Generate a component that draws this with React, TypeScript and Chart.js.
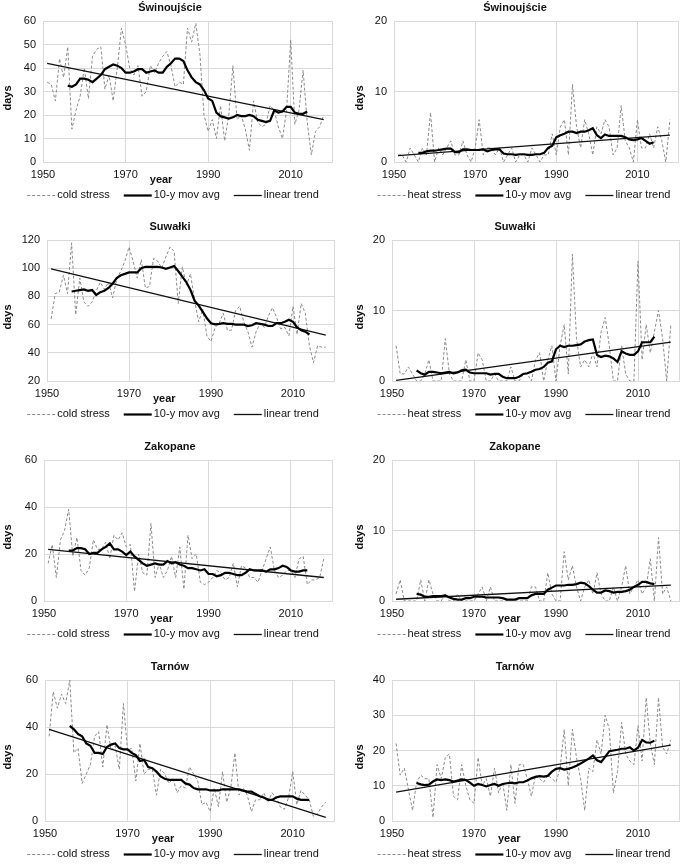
import { useEffect, useRef } from 'react';
import { Chart, registerables } from 'chart.js';

Chart.register(...registerables);

// ---------- categories ----------
const years = [
  1951, 1952, 1953, 1954, 1955, 1956, 1957, 1958, 1959, 1960,
  1961, 1962, 1963, 1964, 1965, 1966, 1967, 1968, 1969, 1970,
  1971, 1972, 1973, 1974, 1975, 1976, 1977, 1978, 1979, 1980,
  1981, 1982, 1983, 1984, 1985, 1986, 1987, 1988, 1989, 1990,
  1991, 1992, 1993, 1994, 1995, 1996, 1997, 1998, 1999, 2000,
  2001, 2002, 2003, 2004, 2005, 2006, 2007, 2008, 2009, 2010,
  2011, 2012, 2013, 2014, 2015, 2016, 2017, 2018,
];
const maYears = years.slice(5, 64); // 1956..2014
const trendYears = [1951, 2018];

// ---------- tick labels ----------
const xTicks = [1950, 1970, 1990, 2010, 2020];
const yTicks0to60by10 = [0, 10, 20, 30, 40, 50, 60];
const yTicks0to20by10 = [0, 10, 20];
const yTicks20to120by20 = [20, 40, 60, 80, 100, 120];
const yTicks0to60by20 = [0, 20, 40, 60];
const yTicks0to40by10 = [0, 10, 20, 30, 40];

// ---------- Świnoujście ----------
const swiCold = [
  34, 33, 26, 44, 36, 49, 14, 22, 28, 40,
  27, 45, 48, 49, 31, 37, 26, 40, 57, 50,
  40, 37, 41, 28, 30, 41, 38, 42, 45, 47,
  41, 32, 34, 33, 57, 51, 59, 46, 20, 13,
  18, 10, 24, 9, 20, 41, 18, 20, 14, 5,
  26, 17, 15, 16, 24, 22, 15, 10, 22, 52,
  16, 22, 39, 17, 3, 13, 15, 20,
];
const swiColdMA = [
  32.5, 32, 33, 35.5, 35.5,
  35, 34, 35.5, 37, 39.5, 40.5, 41.5, 41, 40, 38,
  38, 38.5, 39.5, 39.5, 38, 38.5, 39, 38, 38, 40.5,
  42, 44, 44, 43, 39, 36, 34, 33, 30.5, 27,
  26, 21, 19.5, 19, 18.5, 19, 20, 19.5, 19.5, 20,
  19.5, 18, 17.5, 17, 17.5, 22, 21, 21.5, 23.5, 23.5,
  21, 20.5, 20.5, 21.5,
];
const swiColdTrend = [42, 18];

const swiHeat = [
  1, 1, 0, 2, 1, 0, 2, 1, 7, 0,
  2, 1, 2, 3, 1, 1, 3, 1, 0, 2,
  6, 1, 2, 2, 1, 2, 0, 1, 2, 0,
  1, 1, 0, 2, 1, 0, 1, 1, 4, 1,
  5, 6, 1, 11, 5, 2, 6, 4, 1, 5,
  4, 6, 5, 1, 2, 8, 3, 2, 0, 6,
  2, 2, 4, 2, 5, 3, 0, 6,
];
const swiHeatMA = [
  1.3, 1.3, 1.5, 1.6, 1.6,
  1.7, 1.8, 1.9, 1.9, 1.4, 1.4, 1.8, 1.8, 1.7, 1.7,
  1.7, 1.8, 1.5, 1.7, 1.8, 1.8, 1.2, 1.1, 1.1, 1.0,
  1.1, 1.1, 1.0, 1.0, 1.1, 1.1, 1.3, 2.0, 2.3, 3.5,
  3.8, 4.0, 4.3, 4.3, 4.1, 4.3, 4.3, 4.5, 4.8, 3.8,
  3.4, 3.9, 3.7, 3.7, 3.7, 3.7, 3.5, 3.2, 3.1, 3.2,
  3.4, 3.0, 2.6, 2.8,
];
const swiHeatTrend = [0.9, 3.8];

// ---------- Suwałki ----------
const suwCold = [
  64, 82, 83, 95, 82, 118, 67, 93, 76, 73,
  76, 84, 90, 85, 90, 79, 92, 98, 105, 115,
  105, 93, 106, 86, 87, 107, 105, 100, 108, 115,
  112, 75, 101, 88, 96, 77, 62, 71, 52, 48,
  58, 61, 68, 56, 56, 70, 73, 62, 55, 44,
  55, 61, 58, 66, 72, 65, 57, 58, 52, 73,
  53, 75, 68, 45, 33, 45, 44, 44,
];
const suwColdMA = [
  83.5, 84, 84.5, 85, 84,
  84.5, 81, 83, 84, 86, 89, 93, 95, 96, 97,
  97, 97, 100, 101, 101, 101, 101, 100.5, 99.5, 100.5,
  101.5, 98, 94, 90, 84.5, 77, 73.5, 69, 64.5, 61,
  60.2, 60.5, 61, 60.5, 60.5, 60, 60, 60, 59, 59.5,
  61, 60.5, 60, 59, 59, 61, 61, 62, 63.5, 62,
  58, 56, 55, 53,
];
const suwColdTrend = [99.5, 52.5];

const suwHeat = [
  5, 1, 1, 2, 1, 0, 0, 1, 3, 0,
  0, 0, 6, 1, 0, 0, 0, 3, 0, 0,
  4, 3, 0, 0, 1, 0, 0, 0, 2, 0,
  0, 1, 1, 0, 3, 4, 0, 3, 5, 0,
  5, 8, 1, 18, 6, 2, 3, 2, 4, 2,
  7, 9, 5, 0, 0, 5, 1, 0, 0, 17,
  3, 8, 4, 7, 10, 6, 0, 8,
];
const suwHeatMA = [
  1.5, 1.1, 0.9, 1.3, 1.3,
  1.2, 1.1, 1.2, 1.3, 1.1, 1.2, 1.5, 1.6, 1.2, 1.1,
  1.1, 1.1, 1.1, 0.9, 1.0, 1.0, 0.6, 0.4, 0.4, 0.4,
  0.6, 1.0, 1.1, 1.3, 1.6, 1.7, 2.0, 2.6, 2.8, 4.5,
  5.0, 4.8, 5.0, 5.0, 5.1, 5.2, 5.6, 5.8, 5.9, 3.7,
  3.4, 3.6, 3.5, 3.2, 2.7, 4.2, 3.9, 3.7, 3.7, 4.2,
  5.5, 5.5, 5.5, 6.3,
];
const suwHeatTrend = [0.1, 5.5];

// ---------- Zakopane ----------
const zakCold = [
  16, 24, 10, 26, 30, 39, 19, 27, 13, 11,
  14, 26, 22, 22, 25, 18, 28, 26, 29, 23,
  24, 4, 20, 12, 11, 33, 10, 16, 10, 13,
  19, 10, 23, 5, 28, 18, 20, 8, 7, 8,
  10, 13, 12, 9, 10, 16, 6, 15, 14, 10,
  10, 8, 13, 18, 23, 13, 10, 11, 13, 13,
  10, 18, 19, 7, 9, 9, 10, 18,
];
const zakColdMA = [
  21.5, 21.5, 22.5, 22.5, 22,
  20, 20.5, 20.5, 22, 23, 24.5, 22, 22, 21, 19.5,
  21, 19, 17.5, 16, 15, 15.5, 16, 15.5, 15.5, 17,
  16, 16.5, 15.5, 15, 14, 14, 13.5, 13, 13.5, 11.5,
  11.5, 10.5, 11, 12, 12, 11.5, 11, 11, 12, 13.5,
  13, 13, 13, 12.5, 13.5, 13.5, 14, 15, 14.5, 13,
  12.5, 12.5, 13, 13,
];
const zakColdTrend = [22, 10];

const zakHeat = [
  1, 3, 0, 0, 0, 0, 3, 0, 3, 1,
  0, 0, 1, 0, 0, 1, 0, 0, 0, 0,
  1, 2, 0, 2, 0, 0, 0, 0, 0, 0,
  0, 0, 0, 2, 2, 0, 0, 4, 1, 0,
  0, 7, 3, 5, 2, 0, 2, 3, 1, 4,
  1, 0, 0, 2, 0, 2, 5, 1, 2, 3,
  1, 2, 6, 0, 9, 1, 2, 0,
];
const zakHeatMA = [
  1.0, 0.9, 0.6, 0.6, 0.7,
  0.7, 0.7, 0.8, 0.5, 0.3, 0.2, 0.2, 0.4, 0.4, 0.6,
  0.6, 0.6, 0.5, 0.5, 0.5, 0.5, 0.4, 0.2, 0.2, 0.2,
  0.4, 0.4, 0.4, 0.8, 1.0, 1.0, 1.0, 1.6, 1.9, 2.2,
  2.2, 2.2, 2.3, 2.3, 2.4, 2.6, 2.5, 2.1, 1.6, 1.2,
  1.2, 1.5, 1.4, 1.2, 1.3, 1.3, 1.4, 1.6, 2.0, 2.3,
  2.7, 2.7, 2.5, 2.4,
];
const zakHeatTrend = [0.25, 2.25];

// ---------- Tarnów ----------
const tarCold = [
  36, 55, 48, 54, 50, 60, 29, 31, 16, 20,
  24, 36, 38, 23, 41, 30, 32, 22, 50, 30,
  31, 17, 33, 20, 22, 22, 11, 22, 20, 16,
  18, 12, 15, 14, 23, 20, 17, 7, 8, 4,
  14, 6, 21, 8, 14, 29, 11, 14, 11, 4,
  9, 9, 12, 8, 12, 10, 6, 5, 10, 21,
  7, 13, 11, 9, 2, 3, 6, 8,
];
const tarColdMA = [
  40.5, 39, 37, 36, 33,
  32, 29, 29, 28.5, 31.5, 32.5, 33, 31, 30.5, 30.5,
  29, 28, 25.5, 26, 23, 22.5, 21, 19, 18, 17.5,
  17.5, 17.5, 17.5, 16, 15.5, 14, 13.5, 13.5, 13.5, 13,
  13, 13, 13.5, 13.5, 13.5, 13.5, 13.5, 13, 12.5, 12.5,
  11.5, 10.5, 10, 9, 9, 10, 10.5, 10.5, 10.5, 10.5,
  9.5, 9, 9, 9,
];
const tarColdTrend = [39, 1.5];

const tarHeat = [
  22, 13, 15, 9, 3, 11, 13, 12, 12, 1,
  16, 12, 18, 19, 7, 6, 16, 10, 6, 5,
  18, 10, 12, 7, 15, 8, 11, 3, 16, 5,
  16, 16, 12, 7, 13, 12, 11, 13, 12, 11,
  15, 26, 10, 26, 18, 12, 3, 15, 14, 23,
  19, 30, 26, 8, 14, 28, 19, 17, 16, 27,
  17, 35, 22, 16, 35, 21, 19, 23,
];
const tarHeatMA = [
  10.8, 10.4, 10.2, 10.3, 11.2,
  11.8, 11.6, 11.8, 11.6, 11.2, 11.5, 11.8, 11.6, 10.9, 10,
  10.5, 10.2, 9.8, 10.2, 10.5, 10, 10.5, 10.7, 10.9, 10.7,
  11, 11, 11.5, 12.1, 12.5, 12.7, 12.6, 12.8, 14, 14.8,
  15, 14.6, 14.8, 15.2, 15.7, 16.3, 17, 17.7, 18.6, 17.2,
  16.7, 18.2, 19.8, 20, 20.2, 20.5, 20.5, 20.9, 20, 20.8,
  23, 22.3, 22.2, 22.8,
];
const tarHeatTrend = [8.2, 21.5];

// ---------- styling ----------
const FONT = '"Liberation Sans", Arial, Helvetica, sans-serif';
const FS = 11;
const TEXT = '#111111';
const GRID = '#d9d9d9';
const DASH_COLOR = '#8a8a8a';
const PANEL_H = 204;
const ROW_TOPS = [1, 220, 440, 660];
const PLOT_TOP = 20;
const PLOT_BOTTOM = 161;
const LEGEND_Y = 194;
const TITLE_Y = 7;
const DAYS_Y = 97;
const YEAR_AT = 1978.6;
const LINE_LEN = 28;
const LINE_GAP = 2;
const ITEM_GAP = 14;

type Spec = {
  title: string;
  kind: string;
  raw: number[];
  ma: number[];
  trend: number[];
  yMin: number;
  yMax: number;
  yTicks: number[];
  col: number;
  row: number;
  plotLeft: number;
  plotRight: number;
};

const specs: Spec[] = [
  { title: 'Świnoujście', kind: 'cold stress', raw: swiCold, ma: swiColdMA, trend: swiColdTrend, yMin: 0, yMax: 60, yTicks: yTicks0to60by10, col: 0, row: 0, plotLeft: 43, plotRight: 332 },
  { title: 'Świnoujście', kind: 'heat stress', raw: swiHeat, ma: swiHeatMA, trend: swiHeatTrend, yMin: 0, yMax: 20, yTicks: yTicks0to20by10, col: 1, row: 0, plotLeft: 51, plotRight: 335 },
  { title: 'Suwałki', kind: 'cold stress', raw: suwCold, ma: suwColdMA, trend: suwColdTrend, yMin: 20, yMax: 120, yTicks: yTicks20to120by20, col: 0, row: 1, plotLeft: 47, plotRight: 334 },
  { title: 'Suwałki', kind: 'heat stress', raw: suwHeat, ma: suwHeatMA, trend: suwHeatTrend, yMin: 0, yMax: 20, yTicks: yTicks0to20by10, col: 1, row: 1, plotLeft: 49, plotRight: 336 },
  { title: 'Zakopane', kind: 'cold stress', raw: zakCold, ma: zakColdMA, trend: zakColdTrend, yMin: 0, yMax: 60, yTicks: yTicks0to60by20, col: 0, row: 2, plotLeft: 44, plotRight: 332 },
  { title: 'Zakopane', kind: 'heat stress', raw: zakHeat, ma: zakHeatMA, trend: zakHeatTrend, yMin: 0, yMax: 20, yTicks: yTicks0to20by10, col: 1, row: 2, plotLeft: 49, plotRight: 336 },
  { title: 'Tarnów', kind: 'cold stress', raw: tarCold, ma: tarColdMA, trend: tarColdTrend, yMin: 0, yMax: 60, yTicks: yTicks0to60by20, col: 0, row: 3, plotLeft: 45, plotRight: 334 },
  { title: 'Tarnów', kind: 'heat stress', raw: tarHeat, ma: tarHeatMA, trend: tarHeatTrend, yMin: 0, yMax: 40, yTicks: yTicks0to40by10, col: 1, row: 3, plotLeft: 49, plotRight: 336 },
];

const COL_X = [0, 343];
const COL_W = [343, 342];
const TITLE_X = [170, 172];
const LEGEND_CX = [173, 181];
const DAYS_X = [8, 17];

function makeDecor(spec: Spec) {
  const items = [
    { label: spec.kind, dash: [3, 2], width: 1, color: DASH_COLOR },
    { label: '10-y mov avg', dash: [] as number[], width: 2.2, color: '#000000' },
    { label: 'linear trend', dash: [] as number[], width: 1.3, color: '#111111' },
  ];
  return {
    id: 'decor',
    afterDraw(chart: any) {
      const { ctx, chartArea, scales } = chart;
      ctx.save();
      ctx.fillStyle = TEXT;
      ctx.textBaseline = 'middle';
      ctx.textAlign = 'center';
      ctx.font = `bold ${FS}px ${FONT}`;
      ctx.fillText(spec.title, TITLE_X[spec.col], TITLE_Y);
      ctx.fillText('year', scales.x.getPixelForValue(YEAR_AT), chartArea.bottom + 18);
      ctx.save();
      ctx.translate(DAYS_X[spec.col], DAYS_Y);
      ctx.rotate(-Math.PI / 2);
      ctx.fillText('days', 0, 0);
      ctx.restore();

      ctx.font = `${FS}px ${FONT}`;
      ctx.textAlign = 'left';
      const widths = items.map((it) => ctx.measureText(it.label).width);
      const total =
        items.length * (LINE_LEN + LINE_GAP) +
        widths.reduce((a, b) => a + b, 0) +
        (items.length - 1) * ITEM_GAP;
      let x = LEGEND_CX[spec.col] - total / 2;
      items.forEach((it, i) => {
        ctx.beginPath();
        ctx.setLineDash(it.dash);
        ctx.lineWidth = it.width;
        ctx.strokeStyle = it.color;
        ctx.moveTo(x, LEGEND_Y + 0.5);
        ctx.lineTo(x + LINE_LEN, LEGEND_Y + 0.5);
        ctx.stroke();
        ctx.setLineDash([]);
        x += LINE_LEN + LINE_GAP;
        ctx.fillText(it.label, x, LEGEND_Y);
        x += widths[i] + ITEM_GAP;
      });
      ctx.restore();
    },
  };
}

function buildConfig(spec: Spec): any {
  const W = COL_W[spec.col];
  const tickFont = { family: FONT, size: FS };
  return {
    type: 'line',
    data: {
      datasets: [
        {
          label: spec.kind,
          data: years.map((x, i) => ({ x, y: spec.raw[i] })),
          borderColor: DASH_COLOR,
          borderWidth: 1,
          borderDash: [3, 2],
          pointRadius: 0,
          tension: 0,
          order: 3,
        },
        {
          label: 'linear trend',
          data: trendYears.map((x, i) => ({ x, y: spec.trend[i] })),
          borderColor: '#111111',
          borderWidth: 1.3,
          pointRadius: 0,
          order: 2,
        },
        {
          label: '10-y mov avg',
          data: maYears.map((x, i) => ({ x, y: spec.ma[i] })),
          borderColor: '#000000',
          borderWidth: 2.2,
          pointRadius: 0,
          tension: 0,
          order: 1,
        },
      ],
    },
    options: {
      animation: false,
      responsive: false,
      events: [],
      layout: { padding: { left: 0, right: W - spec.plotRight, top: PLOT_TOP, bottom: 0 } },
      plugins: {
        legend: { display: false },
        title: { display: false },
        tooltip: { enabled: false },
      },
      scales: {
        x: {
          type: 'linear',
          min: 1950,
          max: 2020,
          afterBuildTicks: (s: any) => {
            s.ticks = xTicks.map((v) => ({ value: v }));
          },
          afterFit: (s: any) => {
            s.height = PANEL_H - PLOT_BOTTOM;
          },
          grid: { color: GRID, lineWidth: 1, drawTicks: false },
          border: { color: GRID, width: 1 },
          ticks: {
            padding: 6,
            font: tickFont,
            color: TEXT,
            maxRotation: 0,
            autoSkip: false,
            callback: (v: any) => (v === 2020 ? '' : String(v)),
          },
        },
        y: {
          type: 'linear',
          min: spec.yMin,
          max: spec.yMax,
          afterBuildTicks: (s: any) => {
            s.ticks = spec.yTicks.map((v) => ({ value: v }));
          },
          afterFit: (s: any) => {
            s.width = spec.plotLeft;
          },
          grid: { color: GRID, lineWidth: 1, drawTicks: false },
          border: { color: GRID, width: 1 },
          ticks: {
            padding: 7,
            font: tickFont,
            color: TEXT,
            callback: (v: any) => String(v),
          },
        },
      },
    },
    plugins: [makeDecor(spec)],
  };
}

function Panel({ spec }: { spec: Spec }) {
  const ref = useRef<HTMLCanvasElement>(null);
  useEffect(() => {
    if (!ref.current) return;
    const chart = new Chart(ref.current, buildConfig(spec));
    return () => chart.destroy();
  }, [spec]);
  const W = COL_W[spec.col];
  return (
    <canvas
      ref={ref}
      width={W}
      height={PANEL_H}
      style={{ display: 'block', width: W, height: PANEL_H }}
    />
  );
}

export default function App() {
  return (
    <div
      style={{
        position: 'absolute',
        left: 0,
        top: 0,
        width: 685,
        height: 864,
        overflow: 'hidden',
        background: '#ffffff',
      }}
    >
      {specs.map((spec, i) => (
        <div
          key={i}
          style={{
            position: 'absolute',
            left: COL_X[spec.col],
            top: ROW_TOPS[spec.row],
            width: COL_W[spec.col],
            height: PANEL_H,
          }}
        >
          <Panel spec={spec} />
        </div>
      ))}
    </div>
  );
}
